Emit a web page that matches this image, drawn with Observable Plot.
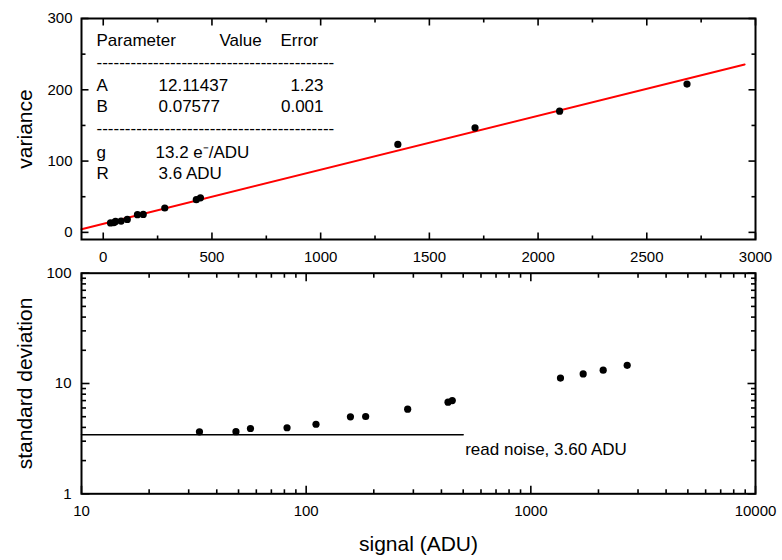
<!DOCTYPE html>
<html><head><meta charset="utf-8">
<script src="https://cdn.jsdelivr.net/npm/d3@7"></script>
<script src="https://cdn.jsdelivr.net/npm/@observablehq/plot@0.6"></script>
<style>
body{margin:0;background:#fff}
#chart{position:relative;width:782px;height:560px;font-family:"Liberation Sans",Arial,sans-serif}
#chart > svg{position:absolute;left:0;overflow:visible}
</style></head><body><div id="chart"></div>
<script>
// ---- data ----
const signal   = [33.5, 48.7, 56.5, 82.2, 110.6, 157.4, 184, 283, 428, 447, 1355, 1710, 2099, 2685];
const variance = [13.3, 13.5, 15.3, 15.8, 18.2, 24.8, 25.2, 34.2, 45.8, 48.5, 123.3, 146.6, 170, 208];
const stdDev   = [3.65, 3.66, 3.91, 3.97, 4.27, 4.99, 5.02, 5.85, 6.77, 7.0, 11.2, 12.2, 13.2, 14.6];
const fitX = [-100, 2950];
const fitY = [4.5, 235.6];
const readNoiseX = [10, 500];
const readNoiseY = [3.43, 3.43];
const readNoiseLabel = "read noise, 3.60 ADU";

const topXTicks = [0, 500, 1000, 1500, 2000, 2500, 3000];
const topXMinor = [250, 750, 1250, 1750, 2250, 2750];
const topYTicks = [0, 100, 200, 300];
const topYMinor = [50, 150, 250];
const logXTicks = [10, 100, 1000, 10000];
const logXMinor = [20,30,40,50,60,70,80,90,200,300,400,500,600,700,800,900,2000,3000,4000,5000,6000,7000,8000,9000];
const logYTicks = [1, 10, 100];
const logYMinor = [2,3,4,5,6,7,8,9,20,30,40,50,60,70,80,90];

const tableHeader = ["Parameter", "Value", "Error"];
const paramNames  = ["A", "B"];
const paramValues = ["12.11437", "0.07577"];
const paramErrors = ["1.23", "0.001"];
const derivedNames  = ["g", "R"];
const derivedValues = ["13.2 e\u207B/ADU", "3.6 ADU"];
const dashes = "-".repeat(42);

const topLabelY = "variance";
const botLabelY = "standard deviation";
const botLabelX = "signal (ADU)";

// ---- build ----
const topPts = signal.map((s, i) => ({s, v: variance[i]}));
const botPts = signal.map((s, i) => ({s, sd: stdDev[i]}));
const fit = fitX.map((x, i) => ({x, y: fitY[i]}));
const rn = readNoiseX.map((x, i) => ({x, y: readNoiseY[i]}));

const font = '"Liberation Sans", Arial, sans-serif';
const W = 782;
const ML = 81, MR = 27;
const baseStyle = {fontFamily: font, fontSize: "15px", color: "black", background: "transparent"};

function txt(s, dx, dy, anchor = "start", size = 17) {
  return Plot.text([s], {text: d => d, frameAnchor: "top-left", dx, dy, textAnchor: anchor, lineAnchor: "middle", fontSize: size, fill: "black"});
}

// inward ticks on all four sides as short link segments;
// the segment ends are found by inverting a pixel offset from the frame edge
function tickLinks(xMaj, xMin, yMaj, yMin, maj, min, xs, ys) {
  const [xl, xr] = xs.range(), [yb, yt] = ys.range();
  const segs = [];
  const vx = (vals, len) => vals.forEach(v => {
    segs.push({x1: v, x2: v, y1: ys.invert(yb), y2: ys.invert(yb - len)});
    segs.push({x1: v, x2: v, y1: ys.invert(yt), y2: ys.invert(yt + len)});
  });
  const vy = (vals, len) => vals.forEach(v => {
    segs.push({y1: v, y2: v, x1: xs.invert(xl), x2: xs.invert(xl + len)});
    segs.push({y1: v, y2: v, x1: xs.invert(xr), x2: xs.invert(xr - len)});
  });
  vx(xMaj, maj); vx(xMin, min); vy(yMaj, maj); vy(yMin, min);
  return Plot.link(segs, {x1: "x1", y1: "y1", x2: "x2", y2: "y2", stroke: "black", strokeWidth: 1.6});
}

const TH = 268, TMT = 18, TMB = 29;
const topXDomain = [-100, 3000], topYDomain = [-10, 300];
const topXs = d3.scaleLinear(topXDomain, [ML, W - MR]);
const topYs = d3.scaleLinear(topYDomain, [TH - TMB, TMT]);
const topPlot = Plot.plot({
  width: W, height: TH,
  marginLeft: ML, marginRight: MR, marginTop: TMT, marginBottom: TMB,
  style: baseStyle,
  x: {domain: topXDomain},
  y: {domain: topYDomain},
  marks: [
    Plot.line(fit, {x: "x", y: "y", stroke: "#ff0000", strokeWidth: 2}),
    Plot.dot(topPts, {x: "s", y: "v", r: 3.6, fill: "black", stroke: "none"}),
    tickLinks(topXTicks, topXMinor, topYTicks, topYMinor, 7, 4, topXs, topYs),
    Plot.axisX(topXTicks, {anchor: "bottom", tickSize: 0, tickPadding: 12, label: null, tickFormat: d => String(d)}),
    Plot.axisY(topYTicks, {anchor: "left", tickSize: 0, tickPadding: 9, label: null, tickFormat: d => String(d)}),
    Plot.frame({stroke: "black", strokeWidth: 2}),
    txt(tableHeader[0], 15, 22), txt(tableHeader[1], 138, 22), txt(tableHeader[2], 199, 22),
    txt(dashes, 15, 44),
    txt(paramNames[0], 15, 67), txt(paramValues[0], 77, 67), txt(paramErrors[0], 242, 67, "end"),
    txt(paramNames[1], 15, 88), txt(paramValues[1], 77, 88), txt(paramErrors[1], 242, 88, "end"),
    txt(dashes, 15, 110),
    txt(derivedNames[0], 15, 134), txt(derivedValues[0], 74, 134),
    txt(derivedNames[1], 15, 155), txt(derivedValues[1], 77, 155),
    Plot.text([topLabelY], {text: d => d, frameAnchor: "left", dx: -56, rotate: -90, textAnchor: "middle", lineAnchor: "middle", fontSize: 21, fill: "black"})
  ]
});
topPlot.style.top = "0px";

const BH = 292, BMT = 4.7, BMB = 66.7;
const botXDomain = [10, 10000], botYDomain = [1, 100];
const botXs = d3.scaleLog(botXDomain, [ML, W - MR]);
const botYs = d3.scaleLog(botYDomain, [BH - BMB, BMT]);
const botPlot = Plot.plot({
  width: W, height: BH,
  marginLeft: ML, marginRight: MR, marginTop: BMT, marginBottom: BMB,
  style: baseStyle,
  x: {type: "log", domain: botXDomain},
  y: {type: "log", domain: botYDomain},
  marks: [
    Plot.line(rn, {x: "x", y: "y", stroke: "black", strokeWidth: 1.5}),
    Plot.text([rn[1]], {x: "x", y: "y", text: () => readNoiseLabel, dx: 2, dy: 15, textAnchor: "start", lineAnchor: "middle", fontSize: 17, fill: "black"}),
    Plot.dot(botPts, {x: "s", y: "sd", r: 3.6, fill: "black", stroke: "none"}),
    tickLinks(logXTicks, logXMinor, logYTicks, logYMinor, 8, 4.5, botXs, botYs),
    Plot.axisX(logXTicks, {anchor: "bottom", tickSize: 0, tickPadding: 12, label: null, tickFormat: d => String(d)}),
    Plot.axisY(logYTicks, {anchor: "left", tickSize: 0, tickPadding: 10, label: null, tickFormat: d => String(d)}),
    Plot.frame({stroke: "black", strokeWidth: 2}),
    Plot.text([botLabelY], {text: d => d, frameAnchor: "left", dx: -56, rotate: -90, textAnchor: "middle", lineAnchor: "middle", fontSize: 21, fill: "black"}),
    Plot.text([botLabelX], {text: d => d, frameAnchor: "bottom", dy: 50, textAnchor: "middle", lineAnchor: "middle", fontSize: 21, fill: "black"})
  ]
});
botPlot.style.top = "268px";

const root = document.getElementById("chart");
root.appendChild(topPlot);
root.appendChild(botPlot);
</script></body></html>
